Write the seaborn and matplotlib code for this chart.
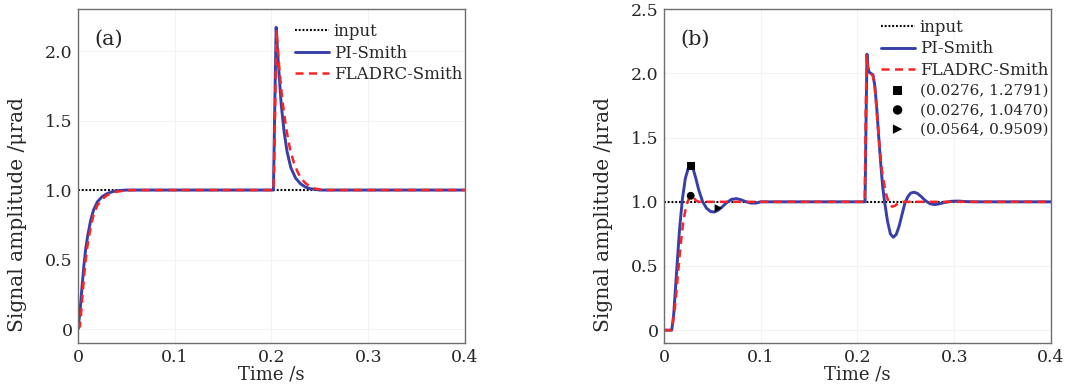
import numpy as np
import pandas as pd
import matplotlib
matplotlib.use("Agg")
import matplotlib.pyplot as plt
import seaborn as sns

# ---- data ----
# panel (a)
input_t = [0.0, 0.4]
input_v = [1.0, 1.0]

pi_a_t = [0.0, 0.002, 0.004, 0.006, 0.008, 0.010, 0.013, 0.016, 0.020, 0.025, 0.030,
          0.035, 0.040, 0.050, 0.060, 0.2020, 0.2035, 0.2048, 0.207, 0.210, 0.213, 0.216,
          0.220, 0.225, 0.230, 0.235, 0.240, 0.250, 0.4]
pi_a_v = [0.0, 0.12, 0.29, 0.45, 0.58, 0.67, 0.78, 0.855, 0.915, 0.953, 0.974,
          0.987, 0.995, 1.0, 1.0, 1.0, 1.65, 2.17, 1.92, 1.62, 1.42, 1.28,
          1.16, 1.085, 1.045, 1.022, 1.01, 1.0, 1.0]

fl_a_t = [0.0, 0.002, 0.004, 0.006, 0.008, 0.010, 0.013, 0.016, 0.020, 0.025, 0.030,
          0.035, 0.040, 0.050, 0.060, 0.2022, 0.2038, 0.2052, 0.208, 0.211, 0.215, 0.219,
          0.223, 0.227, 0.231, 0.235, 0.240, 0.245, 0.255, 0.4]
fl_a_v = [0.0, 0.02, 0.18, 0.36, 0.50, 0.61, 0.73, 0.82, 0.89, 0.935, 0.962,
          0.978, 0.988, 0.998, 1.0, 1.0, 1.6, 2.15, 1.88, 1.66, 1.45, 1.3,
          1.2, 1.13, 1.08, 1.05, 1.025, 1.01, 1.0, 1.0]

# panel (b)
pi_b_t = [0.0, 0.008, 0.010, 0.013, 0.016, 0.019, 0.022, 0.025, 0.0276, 0.030, 0.033,
          0.036, 0.040, 0.044, 0.048, 0.052, 0.056, 0.060, 0.065, 0.070, 0.075, 0.080,
          0.085, 0.090, 0.095, 0.100,
          0.2078, 0.2088, 0.2098, 0.2108, 0.212, 0.214, 0.216, 0.218, 0.220, 0.222,
          0.224, 0.226, 0.228, 0.231, 0.234, 0.237, 0.240, 0.243, 0.246, 0.249, 0.252,
          0.255, 0.2585, 0.262, 0.266, 0.270, 0.275, 0.280, 0.285, 0.290, 0.297, 0.304,
          0.312, 0.320, 0.4]
pi_b_v = [0.0, 0.0, 0.12, 0.45, 0.78, 1.02, 1.18, 1.26, 1.279, 1.26, 1.18,
          1.09, 1.0, 0.95, 0.925, 0.92, 0.935, 0.96, 0.995, 1.02, 1.025, 1.015,
          1.0, 0.99, 0.99, 1.0,
          1.0, 1.6, 2.15, 2.05, 2.01, 2.0, 1.99, 1.9, 1.72, 1.5,
          1.3, 1.12, 1.0, 0.85, 0.75, 0.724, 0.745, 0.81, 0.9, 0.99, 1.04,
          1.068, 1.075, 1.065, 1.04, 1.01, 0.985, 0.978, 0.985, 0.995, 1.004, 1.006,
          1.002, 1.0, 1.0]

fl_b_t = [0.0, 0.008, 0.011, 0.014, 0.017, 0.020, 0.023, 0.026, 0.0276, 0.030, 0.033,
          0.036, 0.100,
          0.2075, 0.2085, 0.2095, 0.211, 0.214, 0.216, 0.218, 0.220, 0.222, 0.224,
          0.226, 0.228, 0.230, 0.232, 0.234, 0.236, 0.239, 0.242, 0.246, 0.4]
fl_b_v = [0.0, 0.0, 0.15, 0.4, 0.65, 0.85, 0.97, 1.03, 1.047, 1.04, 1.01,
          1.0, 1.0,
          1.0, 1.7, 2.14, 2.02, 2.0, 1.98, 1.88, 1.7, 1.5, 1.33,
          1.2, 1.12, 1.05, 1.0, 0.97, 0.962, 0.97, 0.99, 1.0, 1.0]

pts_t = [0.0276, 0.0276, 0.0564]
pts_v = [1.2791, 1.0470, 0.9509]
pts_marker = ["s", "o", ">"]

x_ticks = [0, 0.1, 0.2, 0.3, 0.4]
x_ticklabels = ["0", "0.1", "0.2", "0.3", "0.4"]
ya_ticks = [0, 0.5, 1.0, 1.5, 2.0]
ya_ticklabels = ["0", "0.5", "1.0", "1.5", "2.0"]
yb_ticks = [0, 0.5, 1.0, 1.5, 2.0, 2.5]
yb_ticklabels = ["0", "0.5", "1.0", "1.5", "2.0", "2.5"]

blue = "#383fa8"
red = "#fa2424"

sns.set_style("white")
plt.rcParams["font.family"] = ["DejaVu Serif"]

fig = plt.figure(figsize=(10.67, 3.88), dpi=100)
ax_a = fig.add_axes([0.0731, 0.116, 0.3627, 0.860])
ax_b = fig.add_axes([0.6223, 0.116, 0.3627, 0.860])


def draw(ax, pi_t, pi_v, fl_t, fl_v):
    sns.lineplot(x=input_t, y=input_v, ax=ax, color="black", linewidth=1.5,
                 linestyle=(0, (0.9, 0.9)), label="input", estimator=None, sort=False)
    sns.lineplot(x=pi_t, y=pi_v, ax=ax, color=blue, linewidth=2.1,
                 label="PI-Smith", estimator=None, sort=False)
    sns.lineplot(x=fl_t, y=fl_v, ax=ax, color=red, linewidth=1.8,
                 linestyle=(0, (3.2, 2.2)), label="FLADRC-Smith", estimator=None, sort=False)


draw(ax_a, pi_a_t, pi_a_v, fl_a_t, fl_a_v)
draw(ax_b, pi_b_t, pi_b_v, fl_b_t, fl_b_v)

for t, v, m in zip(pts_t, pts_v, pts_marker):
    sns.scatterplot(x=[t], y=[v], ax=ax_b, marker=m, color="black", s=32,
                    edgecolor="none", label="(%.4f, %.4f)" % (t, v), zorder=5)

panels = [(ax_a, ya_ticks, ya_ticklabels, (-0.1, 2.3), "(a)", 0.963),
          (ax_b, yb_ticks, yb_ticklabels, (-0.1, 2.5), "(b)", 0.976)]
for ax, yt, ytl, ylim, tag, leg_y in panels:
    ax.set_xlim(0, 0.4)
    ax.set_ylim(*ylim)
    ax.set_xticks(x_ticks)
    ax.set_xticklabels(x_ticklabels)
    ax.set_yticks(yt)
    ax.set_yticklabels(ytl)
    ax.tick_params(direction="in", length=3, width=0.6, color="#888888",
                   labelsize=12.5, pad=4)
    ax.grid(True, color="#f3f3f3", linewidth=0.8)
    for s in ax.spines.values():
        s.set_color("#6e6e6e")
        s.set_linewidth(1.0)
    ax.set_xlabel("Time /s", fontsize=13, labelpad=0)
    ax.set_ylabel("Signal amplitude /μrad", fontsize=14.5)
    ax.yaxis.set_label_coords(-0.133, 0.385)
    ax.text(0.043, 0.91, tag, transform=ax.transAxes, fontsize=15, va="center")
    leg = ax.legend(loc="upper right", bbox_to_anchor=(0.997, leg_y), frameon=False,
                    fontsize=12, handlelength=2.05, handletextpad=0.3, markerscale=1.2,
                    labelspacing=0.27, borderpad=0.1, borderaxespad=0.0)
    # coordinate labels are set a little smaller than the line labels
    for txt in leg.get_texts()[3:]:
        txt.set_fontsize(11)

fig.savefig("out.png", dpi=100)
